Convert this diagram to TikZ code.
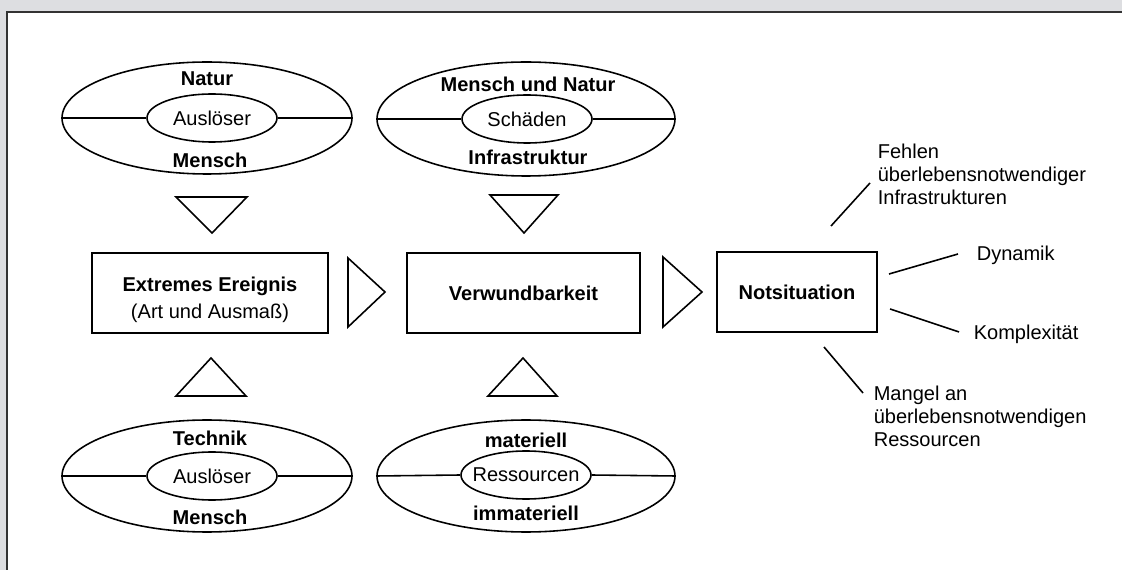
\documentclass[tikz,border=0pt]{standalone}
\usepackage{fontspec}
\setmainfont{Liberation Sans}
\usepackage{tikz}
\usetikzlibrary{positioning, shapes.geometric, calc}

\definecolor{rahmen}{RGB}{221,222,225}

\begin{document}
\begin{tikzpicture}[x=0.02cm, y=-0.02cm, line width=0.9pt,
    every node/.style={font=\fontsize{11.4}{13.1}\selectfont},
    aussen/.style={draw, ellipse, minimum width=5.8cm, minimum height=2.24cm, inner sep=0pt},
    innen/.style={draw, ellipse, minimum width=2.6cm, minimum height=0.96cm, inner sep=0pt},
    kasten/.style={draw, rectangle, minimum height=1.6cm, align=center, inner sep=0pt,
      font=\fontsize{11.4}{15.4}\selectfont},
    fett/.style={font=\fontsize{11.4}{13.1}\selectfont\bfseries, inner sep=0pt},
    notiz/.style={anchor=west, align=left, inner sep=0pt}]
      \useasboundingbox (0,0) rectangle (1122,570);
      \fill[rahmen] (0,0) rectangle (1122,570);
      \fill[white] (7,12) rectangle (1122,570);
      \draw[line width=0.6pt, black!80] (7,570) -- (7,12) -- (1122,12);

      % Ausloeser oben
      \node[aussen] (natur) at (207,118) {};
      \node[innen, label=center:Auslöser] (ausl1) at (212,118) {};
      \node[fett] (natur1) at (207,79) {Natur};
      \node[fett] (mensch1) at (210,160) {Mensch};
      \draw (natur.west) -- (ausl1.west);
      \draw (ausl1.east) -- (natur.east);

      % Schaeden
      \node[aussen, minimum width=5.96cm, minimum height=2.28cm] (schad) at (526,119) {};
      \node[innen, label=center:Schäden] (schaden) at (527,119) {};
      \node[fett] (mundn) at (528,84) {Mensch und Natur};
      \node[fett] (infra) at (528,157) {Infrastruktur};
      \draw (schad.west) -- (schaden.west);
      \draw (schaden.east) -- (schad.east);

      % Ausloeser unten
      \node[aussen] (technik) at (207,476) {};
      \node[innen, label=center:Auslöser] (ausl2) at (212,476) {};
      \node[fett] (technik1) at (210,438) {Technik};
      \node[fett] (mensch2) at (210,517) {Mensch};
      \draw (technik.west) -- (ausl2.west);
      \draw (ausl2.east) -- (technik.east);

      % Ressourcen
      \node[aussen, minimum width=5.96cm] (ress) at (526,476) {};
      \node[innen, label=center:Ressourcen] (ressourcen) at (526,475) {};
      \node[fett] (mat) at (526,440) {materiell};
      \node[fett] (immat) at (526,513) {immateriell};
      \draw (ress.west) -- (ressourcen.west);
      \draw (ressourcen.east) -- (ress.east);

      % Kaesten
      \node[kasten, minimum width=4.72cm] (ereignis) at (210,293) {};
      \node[align=center, font=\fontsize{11.4}{15.4}\selectfont, inner sep=0pt] (ereignistext)
        at (210,300) {\textbf{Extremes Ereignis}\\(Art und Ausmaß)};
      \node[kasten, minimum width=4.66cm] (verwund) at (523.5,293) {\textbf{Verwundbarkeit}};
      \node[kasten, minimum width=3.2cm] (notsit) at (797,292) {\textbf{Notsituation}};

      % Dreiecke
      \draw (176,197) -- (247,197) -- (212,233) -- cycle;
      \draw (490,195) -- (558,195) -- (524,233) -- cycle;
      \draw (176,396) -- (246,396) -- (211,358) -- cycle;
      \draw (488,396) -- (557,396) -- (523,358) -- cycle;
      \draw (348,258) -- (348,327) -- (385,292) -- cycle;
      \draw (663,257) -- (663,327) -- (702,292) -- cycle;

      % Merkmale der Notsituation
      \node[notiz] (fehlen) at (877,174) {Fehlen\\überlebensnotwendiger\\Infrastrukturen};
      \node[notiz] (dynamik) at (976,255) {Dynamik};
      \node[notiz] (komplex) at (973,334) {Komplexität};
      \node[notiz] (mangel) at (873,416) {Mangel an\\überlebensnotwendigen\\Ressourcen};
      \coordinate (f1) at (831,226);
      \coordinate (f2) at (870,183);
      \coordinate (d1) at (889,274);
      \coordinate (d2) at (958,254);
      \coordinate (k1) at (890,309);
      \coordinate (k2) at (959,332);
      \coordinate (m1) at (824,347);
      \coordinate (m2) at (863,393);
      \draw (f1) -- (f2);
      \draw (d1) -- (d2);
      \draw (k1) -- (k2);
      \draw (m1) -- (m2);
\end{tikzpicture}
\end{document}
